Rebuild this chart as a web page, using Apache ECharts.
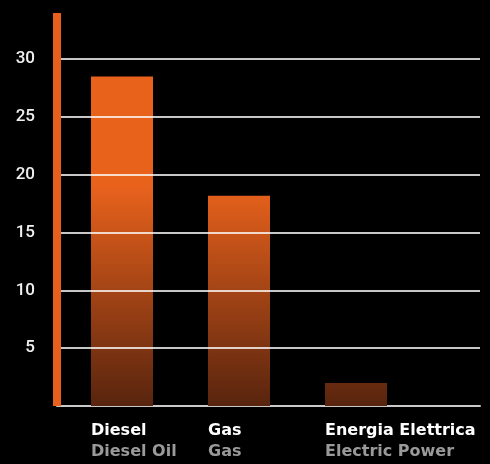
<!DOCTYPE html>
<html>
<head>
<meta charset="utf-8">
<script src="https://cdn.jsdelivr.net/npm/echarts@6/dist/echarts.min.js"></script>
<style>
html,body{margin:0;padding:0;background:#000;}
#chart{width:490px;height:464px;}
</style>
</head>
<body>
<div id="chart"></div>
<script>
var categories = ['Diesel', 'Gas', 'Energia Elettrica'];
var subLabels = ['Diesel Oil', 'Gas', 'Electric Power'];
var values = [28.5, 18.2, 2.0];
var yTicks = [5, 10, 15, 20, 25, 30];

var chart = echarts.init(document.getElementById('chart'));
var seriesData = categories.map(function (c, i) {
  return { value: [i, values[i]], name: c, sub: subLabels[i] };
});

chart.setOption({
  backgroundColor: '#000000',
  animation: false,
  grid: { left: 57, right: 10, top: 13, bottom: 58 },
  xAxis: {
    type: 'value',
    min: -0.5556,
    max: 3.0598,
    axisLine: { show: true, onZero: false, lineStyle: { color: '#c8c8c8', width: 2 } },
    axisTick: { show: false },
    axisLabel: { show: false },
    splitLine: { show: false }
  },
  yAxis: {
    type: 'value',
    min: 0,
    max: 34,
    interval: 5,
    z: 3,
    axisLine: { show: true, onZero: false, lineStyle: { color: '#E8601C', width: 8, cap: 'butt' } },
    axisTick: { show: false },
    axisLabel: {
      color: '#f0f0f0',
      fontFamily: 'Roboto',
      fontWeight: 500,
      fontSize: 17,
      margin: 22,
      padding: [0, 0, 8, 0],
      showMinLabel: false,
      showMaxLabel: false,
      formatter: function (v) { return yTicks.indexOf(v) >= 0 ? String(v) : ''; }
    },
    splitLine: {
      show: true,
      showMinLine: false,
      showMaxLine: false,
      lineStyle: { color: 'rgba(255,255,255,0.78)', width: 2 }
    }
  },
  series: [{
    type: 'bar',
    barWidth: 62,
    data: seriesData,
    itemStyle: {
      color: new echarts.graphic.LinearGradient(0, 185, 0, 406, [
        { offset: 0, color: '#E9621C' },
        { offset: 1, color: '#58240E' }
      ], true)
    },
    label: {
      show: true,
      position: 'bottom',
      distance: 14,
      align: 'left',
      offset: [-31, 0],
      formatter: function (p) {
        return '{a|' + p.data.name + '}\n{b|' + p.data.sub + '}';
      },
      rich: {
        a: { color: '#ffffff', fontFamily: 'DejaVu Sans', fontWeight: 'bold', fontSize: 16, lineHeight: 21 },
        b: { color: '#9a9a9a', fontFamily: 'DejaVu Sans', fontWeight: 'bold', fontSize: 16, lineHeight: 21 }
      }
    }
  }]
});
</script>
</body>
</html>
